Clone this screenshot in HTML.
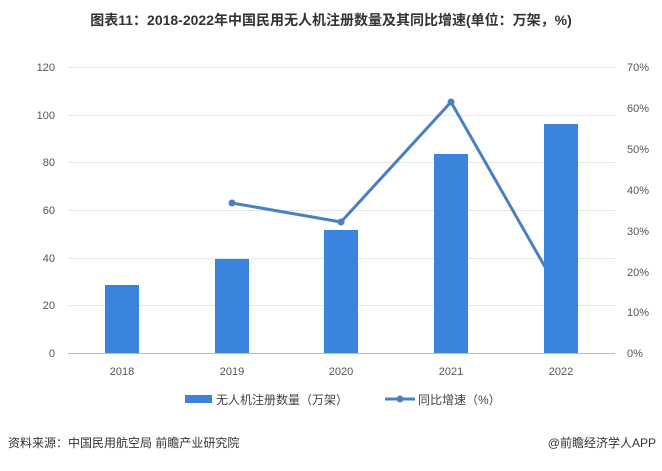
<!DOCTYPE html>
<html><head><meta charset="utf-8"><style>
body{margin:0;background:#fff;width:662px;height:466px;overflow:hidden;font-family:"Liberation Sans","Noto Sans CJK SC",sans-serif;}
</style></head><body>
<svg width="662" height="466" xmlns="http://www.w3.org/2000/svg" font-family="Liberation Sans, Noto Sans CJK SC, sans-serif">
<text x="331" y="25" text-anchor="middle" font-size="14" font-weight="bold" fill="#333">图表11：2018-2022年中国民用无人机注册数量及其同比增速(单位：万架，%)</text>
<g stroke="#e6e6e6" stroke-width="1">
<line x1="68" y1="67.5" x2="615" y2="67.5"/><line x1="68" y1="115.5" x2="615" y2="115.5"/>
<line x1="68" y1="162.5" x2="615" y2="162.5"/><line x1="68" y1="210.5" x2="615" y2="210.5"/>
<line x1="68" y1="258.5" x2="615" y2="258.5"/><line x1="68" y1="305.5" x2="615" y2="305.5"/>
</g>
<line x1="68" y1="353.5" x2="615" y2="353.5" stroke="#bbb"/>
<g font-size="11" fill="#555" text-anchor="end">
<text x="55" y="71">120</text><text x="55" y="119">100</text><text x="55" y="166">80</text>
<text x="55" y="214">60</text><text x="55" y="262">40</text><text x="55" y="309">20</text><text x="55" y="357">0</text>
</g>
<g font-size="11" fill="#555" text-anchor="start">
<text x="627" y="71">70%</text><text x="627" y="112">60%</text><text x="627" y="153">50%</text>
<text x="627" y="194">40%</text><text x="627" y="235">30%</text><text x="627" y="276">20%</text>
<text x="627" y="316">10%</text><text x="627" y="357">0%</text>
</g>
<polyline points="232,203 341,222 451,102 561,295" fill="none" stroke="#4a7fc1" stroke-width="3"/>
<g fill="#3a84dd">
<rect x="105" y="285" width="34" height="68"/><rect x="215" y="259" width="34" height="94"/>
<rect x="324" y="230" width="34" height="123"/><rect x="434" y="154" width="34" height="199"/>
<rect x="544" y="124" width="34" height="229"/>
</g>
<g fill="#4a7fc1"><circle cx="232" cy="203" r="3.5"/><circle cx="341" cy="222" r="3.5"/><circle cx="451" cy="102" r="3.5"/></g>
<g font-size="11" fill="#555" text-anchor="middle">
<text x="122" y="375">2018</text><text x="232" y="375">2019</text><text x="341" y="375">2020</text>
<text x="451" y="375">2021</text><text x="561" y="375">2022</text>
</g>
<rect x="185" y="395" width="27" height="8" fill="#3a84dd"/>
<text x="216" y="404" font-size="12" fill="#444">无人机注册数量（万架）</text>
<line x1="385" y1="399" x2="415" y2="399" stroke="#4a7fc1" stroke-width="3"/>
<circle cx="400" cy="399" r="3.5" fill="#4a7fc1"/>
<text x="418" y="404" font-size="12" fill="#444">同比增速（%）</text>
<text x="8" y="447" font-size="12" fill="#333">资料来源：中国民用航空局 前瞻产业研究院</text>
<text x="656" y="447" font-size="12" fill="#333" text-anchor="end">@前瞻经济学人APP</text>
</svg>
</body></html>
